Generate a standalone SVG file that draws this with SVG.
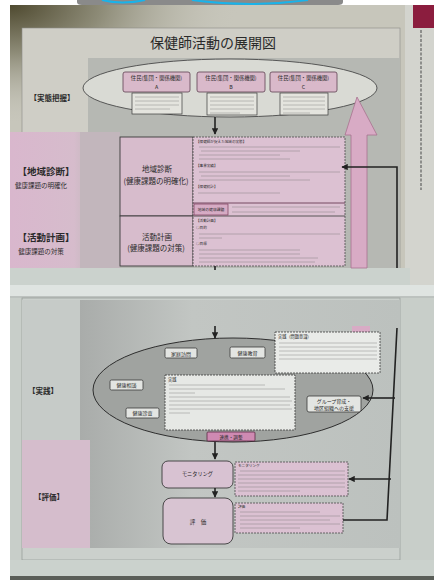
<svg xmlns="http://www.w3.org/2000/svg" width="434" height="580" viewBox="0 0 434 580">
<defs>
<radialGradient id="vig" cx="0" cy="0" r="1" gradientUnits="userSpaceOnUse" gradientTransform="translate(10,5) scale(230,120)">
<stop offset="0" stop-color="#4f4a30"/><stop offset="0.4" stop-color="#8e8c78"/><stop offset="1" stop-color="#c7c6bb" stop-opacity="0"/>
</radialGradient>
<linearGradient id="pinkcol" x1="0" x2="1" y1="0" y2="0"><stop offset="0" stop-color="#d9b7cd"/><stop offset="0.8" stop-color="#d6bccc"/><stop offset="1" stop-color="#c4b8bd"/></linearGradient>
<linearGradient id="panel2" x1="0" x2="1" y1="0" y2="0"><stop offset="0" stop-color="#a9acaa"/><stop offset="0.35" stop-color="#c2c6c3"/><stop offset="1" stop-color="#bcc1be"/></linearGradient>
<marker id="ah" viewBox="0 0 10 10" refX="9" refY="5" markerWidth="4" markerHeight="4" orient="auto"><path d="M0,0 L10,5 L0,10 z" fill="#222"/></marker>
</defs>
<style>
.jp{font-family:"Noto Sans CJK JP","Noto Sans CJK SC",sans-serif;fill:#2a2a2a}
.lbl{font-weight:bold}
.ph{stroke:#6a6a6a;stroke-width:0.8;opacity:0.45}
.conn{stroke:#222;stroke-width:1.6;fill:none}
.wbox{fill:#e3e5e2;stroke:#3a3a3a;stroke-width:0.8}
.dash{stroke-dasharray:2,1}
</style>

<!-- photo background -->
<rect width="434" height="580" fill="#ffffff"/>
<rect x="10" y="5" width="424" height="575" fill="#c9cbc4"/>
<rect x="10" y="5" width="400" height="282" fill="#c7c6bb"/>
<rect x="10" y="5" width="400" height="282" fill="url(#vig)"/>
<rect x="405" y="5" width="29" height="282" fill="#d3d4ce"/>
<rect x="413" y="5" width="21" height="23" fill="#8b1d3e"/>
<line x1="421" y1="30" x2="421" y2="190" stroke="#555" stroke-width="2" stroke-dasharray="3,1.5" opacity="0.55"/>
<!-- top overlay -->
<path d="M77,0 H343 V2 Q343,5 338,5 H82 Q77,5 77,2 Z" fill="#8a8a8a"/>
<path d="M102,0 Q122,5 145,0" stroke="#19b3ea" stroke-width="2" fill="none"/>
<path d="M192,0 Q250,8 308,0" stroke="#19b3ea" stroke-width="2" fill="none"/>

<!-- upper page -->
<rect x="22" y="28" width="378" height="252" fill="#cfcec6" stroke="#8a8a86" stroke-width="0.6"/>
<text class="jp" x="213" y="48" font-size="14" text-anchor="middle">保健師活動の展開図</text>
<rect x="88" y="58" width="312" height="210" fill="#b6b8b3"/>
<rect x="10" y="132" width="80" height="138" fill="url(#pinkcol)"/>
<rect x="80" y="132" width="40" height="136" fill="#c2b6bc"/>
<rect x="10" y="268" width="400" height="18" fill="#cbd2cd"/>

<g id="label-jittai"><text class="jp lbl" x="52" y="101" font-size="7.5" text-anchor="middle">【実態把握】</text></g>

<g id="ellipse-top"><ellipse cx="230" cy="88" rx="147" ry="29" fill="#d9dad4" stroke="#4a4a4a" stroke-width="0.9"/></g>

<g id="node-A">
<rect x="123" y="72" width="67" height="20" rx="2" fill="#d9b9ca" stroke="#5e4050" stroke-width="0.8"/>
<text class="jp" x="156.5" y="80" font-size="5.3" text-anchor="middle">住民(集団・関係機関)</text>
<text class="jp" x="156.5" y="89" font-size="5.3" text-anchor="middle">A</text>
<rect x="132" y="93" width="50" height="21" fill="#e4e4de" stroke="#3a3a3a" stroke-width="0.7"/>
<path class="ph" d="M135,97 H179 M135,101 H179 M135,105 H179 M135,109 H170"/>
</g>
<g id="node-B">
<rect x="197" y="72" width="68" height="20" rx="2" fill="#d9b9ca" stroke="#5e4050" stroke-width="0.8"/>
<text class="jp" x="231" y="80" font-size="5.3" text-anchor="middle">住民(集団・関係機関)</text>
<text class="jp" x="231" y="89" font-size="5.3" text-anchor="middle">B</text>
<rect x="207" y="93" width="50" height="22" fill="#e4e4de" stroke="#3a3a3a" stroke-width="0.7"/>
<path class="ph" d="M210,97 H254 M210,101 H254 M210,105 H254 M210,109 H254 M210,113 H240"/>
</g>
<g id="node-C">
<rect x="270" y="72" width="67" height="20" rx="2" fill="#d9b9ca" stroke="#5e4050" stroke-width="0.8"/>
<text class="jp" x="303.5" y="80" font-size="5.3" text-anchor="middle">住民(集団・関係機関)</text>
<text class="jp" x="303.5" y="89" font-size="5.3" text-anchor="middle">C</text>
<rect x="280" y="93" width="48" height="22" fill="#e4e4de" stroke="#3a3a3a" stroke-width="0.7"/>
<path class="ph" d="M283,97 H325 M283,101 H325 M283,105 H325 M283,109 H325 M283,113 H310"/>
</g>

<g id="big-arrow"><polygon points="357,97 377,135 367,135 367,268 351,268 351,135 345,135" fill="#d8abc5" stroke="#a8728f" stroke-width="0.8"/></g>

<g id="label-shindan">
<text class="jp lbl" x="46" y="175" font-size="9.5" text-anchor="middle">【地域診断】</text>
<text class="jp" x="41" y="188" font-size="6.5" text-anchor="middle">健康課題の明確化</text>
</g>
<g id="label-keikaku">
<text class="jp lbl" x="46" y="241" font-size="9.5" text-anchor="middle">【活動計画】</text>
<text class="jp" x="41" y="254" font-size="6.5" text-anchor="middle">健康課題の対策</text>
</g>

<g id="node-shindan">
<rect x="120" y="137" width="73" height="79" fill="#d7bccc" stroke="#3a3a3a" stroke-width="0.9"/>
<text class="jp" x="157" y="172" font-size="7.5" text-anchor="middle">地域診断</text>
<text class="jp" x="156" y="184" font-size="7.5" text-anchor="middle">(健康課題の明確化)</text>
</g>
<g id="node-keikaku">
<rect x="120" y="216" width="73" height="50" fill="#d7bccc" stroke="#3a3a3a" stroke-width="0.9"/>
<text class="jp" x="157" y="240" font-size="7.5" text-anchor="middle">活動計画</text>
<text class="jp" x="156" y="251" font-size="7.5" text-anchor="middle">(健康課題の対策)</text>
</g>
<g id="node-detail">
<rect x="193" y="137" width="152" height="129" fill="#dcc1d2" stroke="#4a4a4a" stroke-width="0.8" class="dash"/>
<line x1="193" y1="203" x2="345" y2="203" stroke="#6a3a55" stroke-width="0.9"/>
<line x1="193" y1="216" x2="345" y2="216" stroke="#4a4a4a" stroke-width="0.9"/>
<text class="jp" x="196" y="143" font-size="3.6">【保健師が捉えた地域の実態】</text>
<path class="ph" d="M199,147 H340 M201,151 H300 M199,155 H280 M199,159 H290"/>
<text class="jp" x="196" y="167" font-size="3.6">【事業実績】</text>
<path class="ph" d="M199,172 H340 M201,176 H290 M199,180 H310"/>
<text class="jp" x="196" y="188" font-size="3.6">【保健統計】</text>
<path class="ph" d="M198,193 H280"/>
<rect x="194" y="204" width="34" height="11" fill="#d6abc4" stroke="#7a3a5a" stroke-width="0.7"/>
<text class="jp" x="211" y="211" font-size="3.8" text-anchor="middle">地域の健康課題</text>
<path class="ph" d="M232,207 H340 M232,212 H335"/>
<text class="jp" x="196" y="222" font-size="3.6">【活動計画】</text>
<text class="jp" x="196" y="229" font-size="3.6">○目的</text>
<path class="ph" d="M199,234 H340 M199,238 H222"/>
<text class="jp" x="196" y="245" font-size="3.6">○目標</text>
<path class="ph" d="M199,250 H300 M199,254 H300 M199,258 H318 M199,262 H315"/>
</g>

<!-- gutter -->
<rect x="10" y="285" width="424" height="13" fill="#dfe4e1"/>
<line x1="10" y1="297" x2="434" y2="297" stroke="#9aa09c" stroke-width="1"/>

<!-- lower page -->
<rect x="10" y="298" width="424" height="282" fill="#c8cec9"/>
<rect x="22" y="298" width="378" height="262" fill="#cbd0cc" stroke="#8a908c" stroke-width="0.6"/>
<rect x="80" y="300" width="320" height="248" fill="url(#panel2)"/>
<rect x="22" y="300" width="58" height="140" fill="#c6cbc8"/>
<rect x="22" y="440" width="68" height="108" fill="#d5bdcc"/>
<rect x="10" y="560" width="424" height="16" fill="#cbd2cd"/>
<rect x="10" y="576" width="424" height="4" fill="#5a5e58"/>
<rect x="352" y="326" width="18" height="7" fill="#d8abc5"/>

<g id="label-jissen"><text class="jp lbl" x="43" y="394" font-size="7.5" text-anchor="middle">【実践】</text></g>
<g id="label-hyoka"><text class="jp lbl" x="49" y="500" font-size="7.5" text-anchor="middle">【評価】</text></g>

<g id="ellipse-bottom"><ellipse cx="233" cy="390" rx="140" ry="52" fill="#a0a3a0" stroke="#2e2e2e" stroke-width="1"/></g>

<g id="node-houmon"><rect class="wbox" x="165" y="348" width="32" height="10" rx="1.5"/><text class="jp" x="181" y="355.5" font-size="5" text-anchor="middle">家庭訪問</text></g>
<g id="node-kyouiku"><rect class="wbox" x="230" y="347" width="35" height="11" rx="1.5"/><text class="jp" x="247.5" y="354.8" font-size="5" text-anchor="middle">健康教育</text></g>
<g id="node-soudan"><rect class="wbox" x="110" y="380" width="33" height="10" rx="1.5"/><text class="jp" x="126.5" y="387.3" font-size="5" text-anchor="middle">健康相談</text></g>
<g id="node-shinsa"><rect class="wbox" x="126" y="408" width="33" height="10" rx="1.5"/><text class="jp" x="142.5" y="415.3" font-size="5" text-anchor="middle">健康診査</text></g>
<g id="node-jissen">
<rect x="165" y="375" width="130" height="55" fill="#e6e8e5" stroke="#3a3a3a" stroke-width="0.8" class="dash"/>
<text class="jp" x="168" y="381" font-size="4.2">実践</text>
<path class="ph" d="M169,385 H265 M169,389 H285 M169,393 H195 M169,397 H290 M169,401 H292 M169,405 H290 M169,409 H292 M169,413 H190"/>
</g>
<g id="node-mondai">
<rect x="275" y="332" width="105" height="41" fill="#e9ebe8" stroke="#3a3a3a" stroke-width="0.8" class="dash"/>
<text class="jp" x="278" y="338" font-size="4.2">実践（問題意識）</text>
<path class="ph" d="M279,343 H377 M279,347 H377 M279,351 H377 M279,355 H377 M279,359 H377"/>
</g>
<g id="node-group">
<rect class="wbox" x="307" y="396" width="54" height="16" rx="2"/>
<text class="jp" x="334" y="403" font-size="5" text-anchor="middle">グループ育成・</text>
<text class="jp" x="334" y="410" font-size="5" text-anchor="middle">地区組織への支援</text>
</g>
<g id="node-renkei"><rect x="207" y="432" width="48" height="9" rx="1" fill="#cf8ab2" stroke="#5a2a44" stroke-width="0.8"/><text class="jp" x="231" y="438.5" font-size="4.6" text-anchor="middle">連携・調整</text></g>

<g id="node-monitor">
<rect x="162" y="461" width="71" height="27" rx="6" fill="#d8c2d2" stroke="#3a3a3a" stroke-width="0.9"/>
<text class="jp" x="197.5" y="476" font-size="5.2" text-anchor="middle">モニタリング</text>
<rect x="235" y="462" width="113" height="34" fill="#dbc1d2" stroke="#4a4a4a" stroke-width="0.8" class="dash"/>
<text class="jp" x="238" y="467" font-size="3.6">モニタリング</text>
<path class="ph" d="M240,471 H345 M238,475 H345 M238,479 H345 M238,483 H345 M238,487 H345 M238,491 H300"/>
</g>
<g id="node-hyoka">
<rect x="163" y="498" width="70" height="46" rx="8" fill="#d8c4d2" stroke="#3a3a3a" stroke-width="0.9"/>
<text class="jp" x="198" y="524" font-size="5.5" text-anchor="middle">評　価</text>
<rect x="235" y="503" width="108" height="30" fill="#dbc1d2" stroke="#4a4a4a" stroke-width="0.8" class="dash"/>
<text class="jp" x="238" y="508" font-size="3.6">評価</text>
<path class="ph" d="M240,512 H320 M240,516 H340 M240,520 H330 M240,524 H340 M240,528 H300"/>
</g>

<!-- connectors -->
<g id="connectors">
<line class="conn" x1="215" y1="117" x2="215" y2="134" marker-end="url(#ah)"/>
<path class="conn" d="M397,268 V167 H342" marker-end="url(#ah)"/>
<line class="conn" x1="215" y1="266" x2="215" y2="270"/>
<line class="conn" x1="215" y1="326" x2="215" y2="338" marker-end="url(#ah)"/>
<line class="conn" x1="215" y1="442" x2="215" y2="459" marker-end="url(#ah)"/>
<line class="conn" x1="215" y1="488" x2="215" y2="497" marker-end="url(#ah)"/>
<path class="conn" d="M397,328 L387,520 H343"/>
<line class="conn" x1="395" y1="398" x2="363" y2="398" marker-end="url(#ah)"/>
<line class="conn" x1="391" y1="479" x2="349" y2="479" marker-end="url(#ah)"/>
</g>
</svg>
